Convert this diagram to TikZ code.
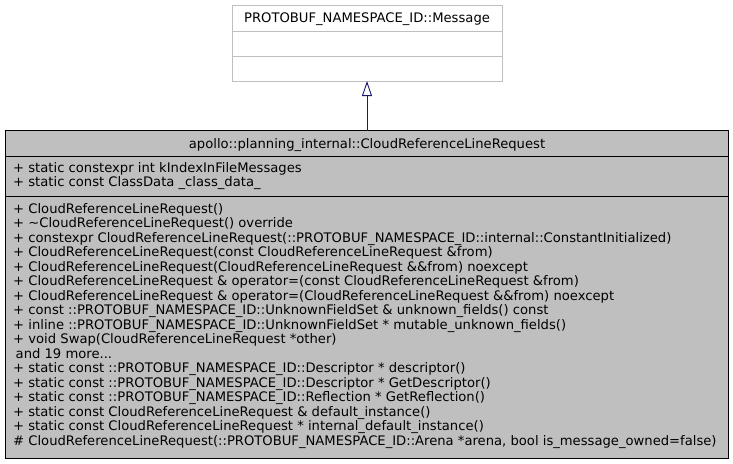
\documentclass[tikz,border=0pt]{standalone}
\usepackage{fontspec}
\setmainfont{DejaVu Sans}
\usetikzlibrary{arrows.meta}
\definecolor{boxgray}{HTML}{BFBFBF}
\definecolor{edgegray}{HTML}{BFBFBF}
\definecolor{arrowblue}{HTML}{191970}
\tikzset{
  mtxt/.style={anchor=base west, inner sep=0pt, font=\fontsize{13.15}{14.5}\selectfont},
  ttxt/.style={anchor=base, inner sep=0pt, font=\fontsize{13.15}{14.5}\selectfont},
  inherit/.style={draw=arrowblue, line width=0.9pt, -{Triangle[open, length=15pt, width=10pt]}},
}
\begin{document}
\begin{tikzpicture}[x=1pt,y=-1pt]
\useasboundingbox (0,0) rectangle (733,463);
% base class box
\draw[edgegray, fill=white, line width=1pt] (232,5.5) rectangle (502,81);
\draw[edgegray, line width=1pt] (232,31.5) -- (502,31.5);
\draw[edgegray, line width=1pt] (232,56.5) -- (502,56.5);
\node[ttxt] (base) at (367,23) {PROTOBUF\_NAMESPACE\_ID::Message};
\coordinate (basebot) at (367,81);
% main class box
\draw[black, fill=boxgray, line width=1pt] (5,130.5) rectangle (728,458);
\draw[black, line width=1pt] (5,156.5) -- (728,156.5);
\draw[black, line width=1pt] (5,196) -- (728,196);
\node[ttxt] (main) at (367,148) {apollo::planning\_internal::CloudReferenceLineRequest};
\coordinate (maintop) at (367,130.5);
% attributes
\node[mtxt] (a0) at (13,172) {+ static constexpr int kIndexInFileMessages};
\node[mtxt] (a1) at (13,186.5) {+ static const ClassData \_class\_data\_};
% methods
\foreach \i/\t in {
0/{+ CloudReferenceLineRequest()},
1/{+ \char`\~CloudReferenceLineRequest() override},
2/{+ constexpr CloudReferenceLineRequest(::PROTOBUF\_NAMESPACE\_ID::internal::ConstantInitialized)},
3/{+ CloudReferenceLineRequest(const CloudReferenceLineRequest \&from)},
4/{+ CloudReferenceLineRequest(CloudReferenceLineRequest \&\&from) noexcept},
5/{+ CloudReferenceLineRequest \& operator=(const CloudReferenceLineRequest \&from)},
6/{+ CloudReferenceLineRequest \& operator=(CloudReferenceLineRequest \&\&from) noexcept},
7/{+ const ::PROTOBUF\_NAMESPACE\_ID::UnknownFieldSet \& unknown\_fields() const},
8/{+ inline ::PROTOBUF\_NAMESPACE\_ID::UnknownFieldSet * mutable\_unknown\_fields()},
9/{+ void Swap(CloudReferenceLineRequest *other)},
11/{+ static const ::PROTOBUF\_NAMESPACE\_ID::Descriptor * descriptor()},
12/{+ static const ::PROTOBUF\_NAMESPACE\_ID::Descriptor * GetDescriptor()},
13/{+ static const ::PROTOBUF\_NAMESPACE\_ID::Reflection * GetReflection()},
14/{+ static const CloudReferenceLineRequest \& default\_instance()},
15/{+ static const CloudReferenceLineRequest * internal\_default\_instance()},
16/{\# CloudReferenceLineRequest(::PROTOBUF\_NAMESPACE\_ID::Arena *arena, bool is\_message\_owned=false)}}
  \node[mtxt] (m\i) at (13,213+14.5*\i) {\t};
\node[mtxt] (m10) at (15.5,213+14.5*10) {and 19 more...};
% inheritance arrow
\draw[inherit] (maintop) -- (basebot);
\end{tikzpicture}
\end{document}
